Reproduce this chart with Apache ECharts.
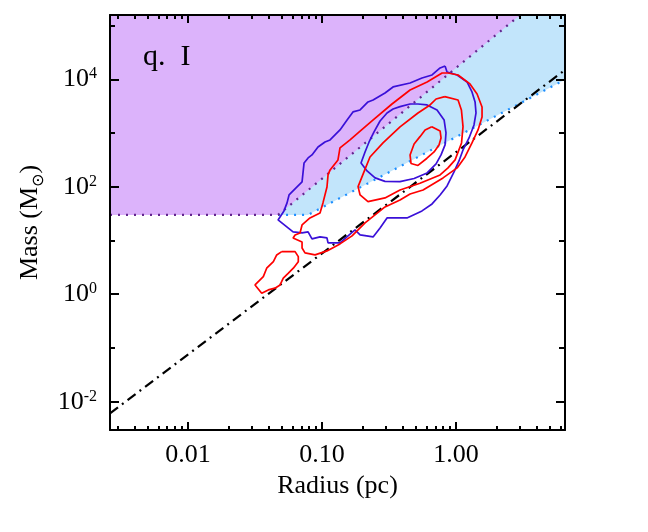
<!DOCTYPE html>
<html>
<head>
<meta charset="utf-8">
<script src="https://cdn.jsdelivr.net/npm/echarts@6/dist/echarts.min.js"></script>
<style>
  html, body { margin: 0; padding: 0; background: #fff; }
  #chart { width: 648px; height: 532px; }
</style>
</head>
<body>
<div id="chart"></div>
<script>
// axis ranges, in log10 units (radius in pc, mass in Msun)
const xLogRange = [-2.582, 0.813];
const yLogRange = [-2.527, 5.196];

// ticks (real values)
const xMajorTicks = [0.01, 0.1, 1];
const xTickLabels = ['0.01', '0.10', '1.00'];
const xMinorTicks = [0.003, 0.004, 0.005, 0.006, 0.007, 0.008, 0.009,
                     0.02, 0.03, 0.04, 0.05, 0.06, 0.07, 0.08, 0.09,
                     0.2, 0.3, 0.4, 0.5, 0.6, 0.7, 0.8, 0.9,
                     2, 3, 4, 5, 6];
const yMajorExp = [-2, 0, 2, 4];
const yMinorExp = [-1, 1, 3, 5];

// shaded regions, [log10 R, log10 M]
const purpleEdge = [[-2.582, 1.475], [-1.328, 1.475], [0.478, 5.196]];
const blueEdge = [[-1.328, 1.475], [-1.106, 1.475], [0.813, 3.993]];
// dash-dot relation
const dashDotLine = [[-2.582, -2.216], [0.813, 4.173]];

// contours, [log10 R, log10 M]
const blueOuter = [[-0.082,4.247],[-0.067,4.136],[0.008,4.080],[0.082,3.950],[0.119,3.764],[0.142,3.578],[0.149,3.373],[0.134,3.150],[0.097,2.908],[0.052,2.685],[0.022,2.480],[-0.015,2.275],[-0.067,2.015],[-0.119,1.847],[-0.179,1.680],[-0.254,1.550],[-0.366,1.419],[-0.515,1.419],[-0.567,1.233],[-0.619,1.066],[-0.716,1.103],[-0.754,1.196],[-0.866,0.954],[-0.955,0.954],[-0.963,1.047],[-1.015,1.066],[-1.075,1.029],[-1.104,1.159],[-1.149,1.140],[-1.216,1.159],[-1.328,1.382],[-1.284,1.550],[-1.261,1.699],[-1.246,1.847],[-1.194,1.978],[-1.149,2.089],[-1.134,2.443],[-1.104,2.536],[-1.075,2.592],[-1.030,2.740],[-0.978,2.833],[-0.940,2.871],[-0.866,3.057],[-0.813,3.243],[-0.769,3.392],[-0.716,3.429],[-0.657,3.578],[-0.619,3.615],[-0.530,3.745],[-0.470,3.857],[-0.343,3.931],[-0.254,4.024],[-0.179,4.080],[-0.119,4.210],[-0.082,4.247]];
const blueMiddle = [[-0.418,3.490],[-0.343,3.540],[-0.284,3.540],[-0.216,3.522],[-0.142,3.429],[-0.089,3.243],[-0.075,3.001],[-0.082,2.778],[-0.112,2.592],[-0.149,2.424],[-0.216,2.257],[-0.313,2.154],[-0.418,2.095],[-0.530,2.099],[-0.604,2.164],[-0.664,2.294],[-0.709,2.443],[-0.679,2.647],[-0.649,2.833],[-0.612,3.020],[-0.567,3.224],[-0.515,3.373],[-0.470,3.447],[-0.418,3.490]];
const redOuter = [[-0.060,4.117],[0.015,4.080],[0.104,3.913],[0.157,3.727],[0.194,3.485],[0.194,3.299],[0.164,3.057],[0.119,2.815],[0.067,2.554],[0.008,2.350],[-0.097,2.164],[-0.246,1.940],[-0.343,1.866],[-0.418,1.754],[-0.530,1.624],[-0.679,1.326],[-0.776,1.085],[-0.866,0.936],[-0.963,0.806],[-1.052,0.731],[-1.127,0.768],[-1.149,0.861],[-1.149,0.973],[-1.216,1.047],[-1.201,1.103],[-1.164,1.140],[-1.149,1.289],[-1.090,1.419],[-1.015,1.513],[-0.993,1.699],[-0.963,1.996],[-0.955,2.220],[-0.940,2.313],[-0.881,2.499],[-0.866,2.722],[-0.791,2.871],[-0.731,3.001],[-0.627,3.224],[-0.478,3.540],[-0.343,3.801],[-0.216,3.950],[-0.104,4.117],[-0.060,4.117]];
const redMiddle = [[-0.084,3.676],[0.015,3.615],[0.040,3.429],[0.052,3.118],[0.041,2.815],[-0.007,2.499],[-0.060,2.350],[-0.119,2.220],[-0.269,2.065],[-0.418,1.940],[-0.530,1.792],[-0.657,1.723],[-0.716,1.847],[-0.731,2.002],[-0.681,2.313],[-0.642,2.554],[-0.545,2.815],[-0.418,3.113],[-0.284,3.373],[-0.194,3.522],[-0.149,3.633],[-0.084,3.676]];
const redInner = [[-0.181,3.118],[-0.119,3.038],[-0.112,2.908],[-0.127,2.778],[-0.164,2.647],[-0.219,2.526],[-0.284,2.396],[-0.336,2.433],[-0.343,2.592],[-0.313,2.796],[-0.269,2.932],[-0.231,3.057],[-0.181,3.118]];
const redIsland = [[-1.301,0.793],[-1.201,0.793],[-1.177,0.699],[-1.177,0.606],[-1.214,0.484],[-1.251,0.391],[-1.289,0.298],[-1.313,0.173],[-1.351,0.112],[-1.401,0.080],[-1.450,0.019],[-1.500,0.173],[-1.438,0.327],[-1.413,0.484],[-1.363,0.606],[-1.338,0.731],[-1.301,0.793]];

const FONT = '"Liberation Serif", "DejaVu Serif", serif';
const BLUE = '#3a10d8';
const RED = '#ff0000';

let chart = echarts.init(document.getElementById('chart'));

function xAxisDef(pos, ticks, len, withLabels, withLine) {
    return {
        type: 'value', position: pos, min: xLogRange[0], max: xLogRange[1], z: 20,
        axisLine: { show: withLine, onZero: false, lineStyle: { color: '#000', width: 2 } },
        axisTick: { show: true, inside: true, length: len, lineStyle: { color: '#000', width: 2 },
                    customValues: ticks.map(v => Math.log10(v)) },
        axisLabel: withLabels ? {
            show: true, margin: 12, color: '#000', fontFamily: FONT, fontSize: 26,
            customValues: xMajorTicks.map(v => Math.log10(v)),
            formatter: (v) => {
                let i = xMajorTicks.findIndex(t => Math.abs(Math.log10(t) - v) < 1e-6);
                return i >= 0 ? xTickLabels[i] : '';
            }
        } : { show: false },
        splitLine: { show: false }
    };
}

function yAxisDef(pos, exps, len, withLabels, withLine) {
    return {
        type: 'value', position: pos, min: yLogRange[0], max: yLogRange[1], z: 20,
        axisLine: { show: withLine, onZero: false, lineStyle: { color: '#000', width: 2 } },
        axisTick: { show: true, inside: true, length: len, lineStyle: { color: '#000', width: 2 },
                    customValues: exps },
        axisLabel: withLabels ? {
            show: true, margin: 13, color: '#000', fontFamily: FONT,
            customValues: yMajorExp,
            formatter: (v) => '{b|10}{s|' + Math.round(v) + '}',
            rich: {
                b: { fontFamily: FONT, fontSize: 26, color: '#000', lineHeight: 26, verticalAlign: 'bottom' },
                s: { fontFamily: FONT, fontSize: 16, color: '#000', lineHeight: 16, verticalAlign: 'top' }
            }
        } : { show: false },
        splitLine: { show: false }
    };
}

function contour(data, color) {
    return {
        type: 'line', data: data, symbol: 'none', smooth: false, z: 5,
        lineStyle: { color: color, width: 1.7 }
    };
}

let xs = [
    xAxisDef('bottom', xMajorTicks, 8, true, true),
    xAxisDef('bottom', xMinorTicks, 4, false, false),
    xAxisDef('top', xMajorTicks, 8, false, true),
    xAxisDef('top', xMinorTicks, 4, false, false)
];
xs[0].name = 'Radius (pc)';
xs[0].nameLocation = 'middle';
xs[0].nameGap = 42;
xs[0].nameTextStyle = { fontFamily: FONT, fontSize: 26, color: '#000' };

let ys = [
    yAxisDef('left', yMajorExp, 9, true, true),
    yAxisDef('left', yMinorExp, 5, false, false),
    yAxisDef('right', yMajorExp, 9, false, true),
    yAxisDef('right', yMinorExp, 6, false, false)
];
ys[0].name = '{m|Mass (M}{o|⊙}{m|)}';
ys[0].nameLocation = 'middle';
ys[0].nameGap = 62;
ys[0].nameTextStyle = {
    rich: {
        m: { fontFamily: FONT, fontSize: 26, color: '#000', lineHeight: 30, verticalAlign: 'top' },
        o: { fontFamily: '"DejaVu Sans"', fontSize: 16, color: '#000', lineHeight: 30, verticalAlign: 'bottom' }
    }
};

let option = {
    animation: false,
    backgroundColor: '#fff',
    grid: { left: 110, top: 15, right: 83, bottom: 102, containLabel: false },
    xAxis: xs,
    yAxis: ys,
    graphic: [{
        type: 'text', left: 143, top: 42, z: 10,
        style: { text: 'q.\u2002I', fontFamily: FONT, fontSize: 30, fill: '#000' }
    }],
    series: [
        {
            type: 'line', data: blueEdge, symbol: 'none', z: 1,
            lineStyle: { color: '#1e8fff', width: 2.2, type: [2, 6] },
            areaStyle: { origin: 'end', color: '#c2e5fb', opacity: 1 }
        },
        {
            type: 'line', data: purpleEdge, symbol: 'none', z: 2,
            lineStyle: { color: '#63258f', width: 2.2, type: [2, 6] },
            areaStyle: { origin: 'end', color: '#dcb3fb', opacity: 1 }
        },
        {
            type: 'line', data: dashDotLine, symbol: 'none', z: 4,
            lineStyle: { color: '#000', width: 2.2, type: [10, 5, 2, 5] }
        },
        contour(blueOuter, BLUE),
        contour(blueMiddle, BLUE),
        contour(redOuter, RED),
        contour(redMiddle, RED),
        contour(redInner, RED),
        contour(redIsland, RED)
    ]
};

chart.setOption(option);
</script>
</body>
</html>
